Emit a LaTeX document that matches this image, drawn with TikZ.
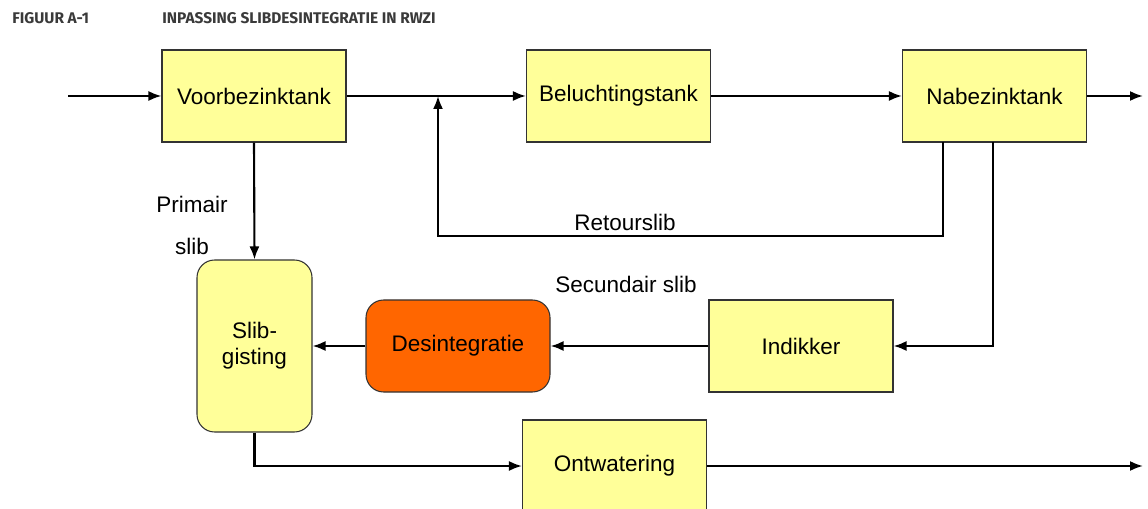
\documentclass[tikz,border=0pt]{standalone}
\usepackage{fontspec}
\setmainfont{Liberation Sans}
\newfontfamily\titlefont{Fira Sans}
\usetikzlibrary{arrows.meta,positioning}
\definecolor{rwYellow}{HTML}{FFFF99}
\definecolor{rwOrange}{HTML}{FF6600}
\definecolor{rwEdge}{HTML}{333333}
\definecolor{rwTitle}{HTML}{3A3A3A}
\tikzset{
    tank/.style={
        draw=rwEdge,line width=0.6pt,fill=#1,
        minimum width=3.68cm,minimum height=1.84cm,
        align=center,font=\fontsize{12.8}{14.8}\selectfont,inner sep=0pt
    },
    tank/.default=rwYellow,
    arrow/.style={
        -{Latex[length=2.6mm,width=2mm]},line width=1.2pt,draw=black
    },
    lbl/.style={font=\fontsize{12.8}{14.8}\selectfont},
    ttl/.style={font=\titlefont\bfseries\fontsize{8.8}{10}\selectfont,text=rwTitle,anchor=west,inner sep=0pt}
}

\begin{document}
\begin{tikzpicture}
\useasboundingbox (0,0) rectangle (22.96,10.16);

% titel
\node[ttl] (fig) at (0.24,9.79) {FIGUUR A-1};
\node[ttl] (figtitle) at (3.24,9.79) {INPASSING SLIBDESINTEGRATIE IN RWZI};

% waterlijn
\node[tank] (vbt) at (5.08,8.24) {Voorbezinktank};
\node[tank] (blt) at (12.37,8.24) {Beluchtingstank};
\node[tank] (nbt) at (19.89,8.24) {Nabezinktank};

% sliblijn
\node[tank,rounded corners=10pt,minimum width=2.3cm,minimum height=3.44cm]
(gist) at (5.09,3.24) {Slib-\\gisting};
\node[tank=rwOrange,rounded corners=10pt] (des) at (9.16,3.24) {Desintegratie};
\node[tank] (ind) at (16.02,3.24) {Indikker};
\node[tank] (ont) at (12.29,0.84) {Ontwatering};

\coordinate (in) at (1.36,8.24);
\coordinate (out1) at (22.86,8.24);
\coordinate (out2) at (22.86,0.84);
\coordinate (rtop) at (18.86,7.32);
\coordinate (rcorner) at (8.76,5.44);
\coordinate (rjoin) at (8.76,8.24);
\coordinate (stop) at (19.86,7.32);

\draw[arrow](in)--(vbt.west);
\draw[arrow](vbt.east)--(blt.west);
\draw[arrow](blt.east)--(nbt.west);
\draw[arrow](nbt.east)--(out1);
\draw[arrow](rtop)|-(rcorner)--(rjoin);
\draw[arrow](stop)|-(ind.east);
\draw[arrow](ind.west)--(des.east);
\draw[arrow](des.west)--(gist.east);
\draw[arrow](vbt.south)--(gist.north);
\draw[arrow](gist.south)|-(ont.west);
\draw[arrow](ont.east)--(out2);

\node[lbl] (prim) at (3.84,6.08) {Primair};
\node[lbl] (pslib) at (3.84,5.24) {slib};
\node[lbl] (retour) at (12.5,5.72) {Retourslib};
\node[lbl] (sec) at (12.52,4.48) {Secundair slib};

\end{tikzpicture}
\end{document}
